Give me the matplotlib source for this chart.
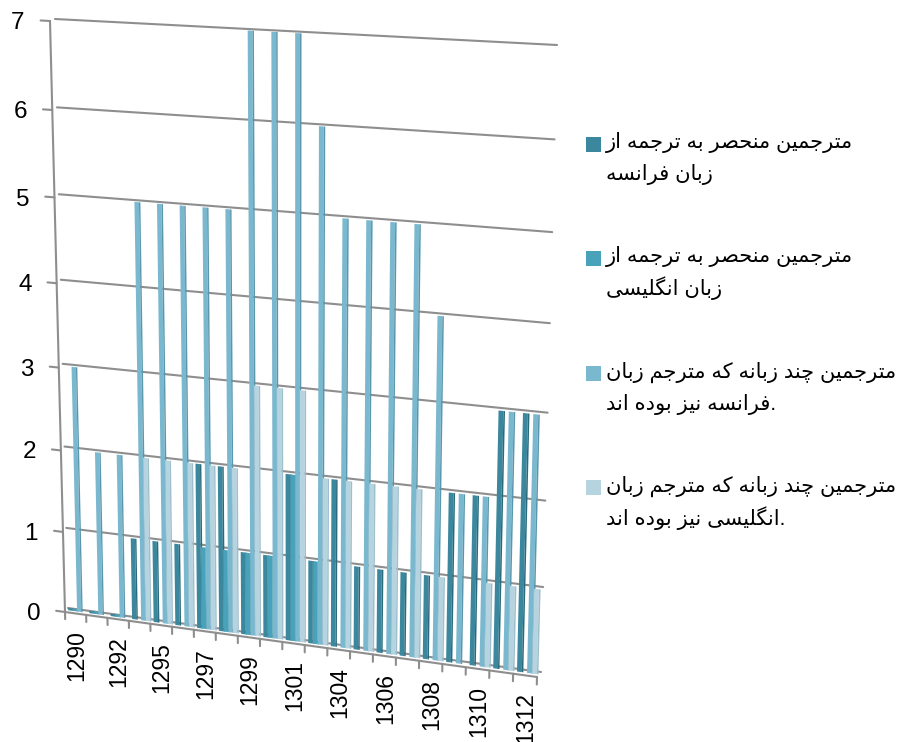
import numpy as np
from matplotlib import pyplot as plt
from matplotlib.patches import Rectangle
from matplotlib.transforms import Transform

years = [1290, 1291, 1292, 1294, 1295, 1296, 1297, 1298, 1299, 1300, 1301,
         1303, 1304, 1305, 1306, 1307, 1308, 1309, 1310, 1311, 1312]
french_only = [0.03, 0.03, 0.03, 1, 1, 1, 2, 2, 1, 1, 2, 1, 2, 1, 1, 1, 1, 2, 2, 3, 3]
english_only = [0.03, 0.03, 0.03, 0, 0, 0, 1, 1, 1, 1, 2, 1, 0, 0, 0, 0, 0, 0, 0, 0, 0]
multi_french = [3, 2, 2, 5, 5, 5, 5, 5, 7, 7, 7, 6, 5, 5, 5, 5, 4, 2, 2, 3, 3]
multi_english = [0, 0, 0, 2, 2, 2, 2, 2, 3, 3, 3, 2, 2, 2, 2, 2, 1, 0, 1, 1, 1]
value_ticks = [0, 1, 2, 3, 4, 5, 6, 7]
# the period leads the logical string: the picture shows it at the right end of the line
legend_lines = [
    ["مترجمین منحصر به ترجمه از", "زبان فرانسه"],
    ["مترجمین منحصر به ترجمه از", "زبان انگلیسی"],
    ["مترجمین چند زبانه که مترجم زبان", ".فرانسه نیز بوده اند"],
    ["مترجمین چند زبانه که مترجم زبان", ".انگلیسی نیز بوده اند"],
]

front_colors = ["#3b879d", "#47a2ba", "#7ab8cf", "#b6d3e0"]
side_colors = ["#2a6a7c", "#3a8ba2", "#5a97ac", "#9dbecb"]
GRID = "#8e8e8e"

# iso, final, initial, medial (two forms only for letters that do not join left)
FORMS = {
    "ا": (0xFE8D, 0xFE8E), "د": (0xFEA9, 0xFEAA), "ر": (0xFEAD, 0xFEAE),
    "ز": (0xFEAF, 0xFEB0), "و": (0xFEED, 0xFEEE),
    "ب": (0xFE8F, 0xFE90, 0xFE91, 0xFE92), "ت": (0xFE95, 0xFE96, 0xFE97, 0xFE98),
    "ج": (0xFE9D, 0xFE9E, 0xFE9F, 0xFEA0), "چ": (0xFB7A, 0xFB7B, 0xFB7C, 0xFB7D),
    "ح": (0xFEA1, 0xFEA2, 0xFEA3, 0xFEA4), "س": (0xFEB1, 0xFEB2, 0xFEB3, 0xFEB4),
    "ص": (0xFEB9, 0xFEBA, 0xFEBB, 0xFEBC), "ف": (0xFED1, 0xFED2, 0xFED3, 0xFED4),
    "ک": (0xFB8E, 0xFB8F, 0xFB90, 0xFB91), "گ": (0xFB92, 0xFB93, 0xFB94, 0xFB95),
    "ل": (0xFEDD, 0xFEDE, 0xFEDF, 0xFEE0), "م": (0xFEE1, 0xFEE2, 0xFEE3, 0xFEE4),
    "ن": (0xFEE5, 0xFEE6, 0xFEE7, 0xFEE8), "ه": (0xFEE9, 0xFEEA, 0xFEEB, 0xFEEC),
    "ی": (0xFBFC, 0xFBFD, 0xFBFE, 0xFBFF),
}


def shape_rtl(text):
    # matplotlib does no shaping, so pick the joined forms and reverse the line
    out = []
    for i, c in enumerate(text):
        if c not in FORMS:
            out.append(c)
            continue
        prev_joins = i > 0 and text[i - 1] in FORMS and len(FORMS[text[i - 1]]) == 4
        next_joins = i + 1 < len(text) and text[i + 1] in FORMS
        forms = FORMS[c]
        if len(forms) == 2:
            out.append(chr(forms[1] if prev_joins else forms[0]))
        elif prev_joins and next_joins:
            out.append(chr(forms[3]))
        elif prev_joins:
            out.append(chr(forms[1]))
        elif next_joins:
            out.append(chr(forms[2]))
        else:
            out.append(chr(forms[0]))
    return "".join(reversed(out))


class WallTransform(Transform):
    # maps (category, value) onto a quadrilateral in figure pixels
    input_dims = 2
    output_dims = 2
    is_separable = False

    def __init__(self, tl, tr, br, bl, n_cats, top):
        super().__init__()
        src = [(0, top), (n_cats, top), (n_cats, 0), (0, 0)]
        a, b = [], []
        for (x, y), (u, v) in zip(src, [tl, tr, br, bl]):
            a.append([x, y, 1, 0, 0, 0, -u * x, -u * y])
            a.append([0, 0, 0, x, y, 1, -v * x, -v * y])
            b += [u, v]
        self.h = np.append(np.linalg.solve(a, b), 1).reshape(3, 3)

    def transform_non_affine(self, values):
        values = np.asarray(values, dtype=float)
        pts = np.column_stack([values, np.ones(len(values))]) @ self.h.T
        return pts[:, :2] / pts[:, 2:]


n = len(years)
top = value_ticks[-1]
back_corners = np.array([(55, 19), (557, 45), (541, 672), (68, 608)], dtype=float)
front_corners = np.array([(50, 21), (553, 49), (537, 677), (65, 612)], dtype=float)
mid_corners = (back_corners + front_corners) / 2

fig = plt.figure(figsize=(8.99, 7.42), dpi=100)
ax = fig.add_axes([0, 0, 1, 1])
ax.axis("off")

back = WallTransform(*back_corners, n, top) + ax.transData
front = WallTransform(*front_corners, n, top) + ax.transData
mid = WallTransform(*mid_corners, n, top) + ax.transData

line_style = dict(color=GRID, lw=1.5, solid_capstyle="round", zorder=1)

# gridlines, with the short step from the axis to the back wall
for v in value_ticks:
    ax.plot([0, n], [v, v], transform=back, **line_style)
    ax.plot([-0.42, 0], [v, v], transform=front, **line_style)
    fx, fy = front.transform((0, v))
    bx, by = back.transform((0, v))
    ax.plot([fx, bx], [fy, by], **line_style)

ax.plot([0, 0], [0, top], transform=front, **line_style)
ax.plot([0, n], [0, 0], transform=front, **line_style)
fx, fy = front.transform((n, 0))
bx, by = back.transform((n, 0))
ax.plot([fx, bx], [fy, by], **line_style)

for i in range(n + 1):
    ax.plot([i, i], [0, -0.09], transform=front, **line_style)

# bars: each one is a little wider than its slot, the next series covers the rest
cats = np.arange(n)
series = [french_only, english_only, multi_french, multi_english]
slot_w = 0.21
bar_w = 0.265
front_share = 0.76
for k, values in enumerate(series):
    left = cats + 0.08 + k * slot_w
    ax.bar(left, values, bar_w * front_share, align="edge", color=front_colors[k],
           linewidth=0, transform=mid, zorder=2 + k)
    ax.bar(left + bar_w * front_share, values, bar_w * (1 - front_share), align="edge",
           color=side_colors[k], linewidth=0, transform=mid, zorder=2 + k)

# tick labels
label_font = ["Liberation Sans", "DejaVu Sans"]
for v in value_ticks:
    ax.annotate(str(v), xy=(-0.42, v), xycoords=front, xytext=(-16, -3),
                textcoords="offset pixels", ha="right", va="center",
                fontsize=17.5, family=label_font, color="black")
for i in range(0, n, 2):
    ax.annotate(str(years[i]), xy=(i + 0.5, 0), xycoords=front, xytext=(1, -17),
                textcoords="offset pixels", ha="center", va="top", rotation=90,
                fontsize=16.5, family=label_font, color="black")

# legend
swatch_y = [137, 251, 366, 480]
baselines = [(148, 180), (262, 295), (378, 410), (492, 525)]
for k, lines in enumerate(legend_lines):
    ax.add_patch(Rectangle((586, swatch_y[k]), 15, 15, color=front_colors[k], linewidth=0))
    for text, y in zip(lines, baselines[k]):
        ax.text(606, y, shape_rtl(text), ha="left", va="baseline", fontsize=15.1,
                family=label_font, color="black")

ax.set_xlim(0, 899)
ax.set_ylim(742, 0)

fig.savefig("out.png", dpi=100)
